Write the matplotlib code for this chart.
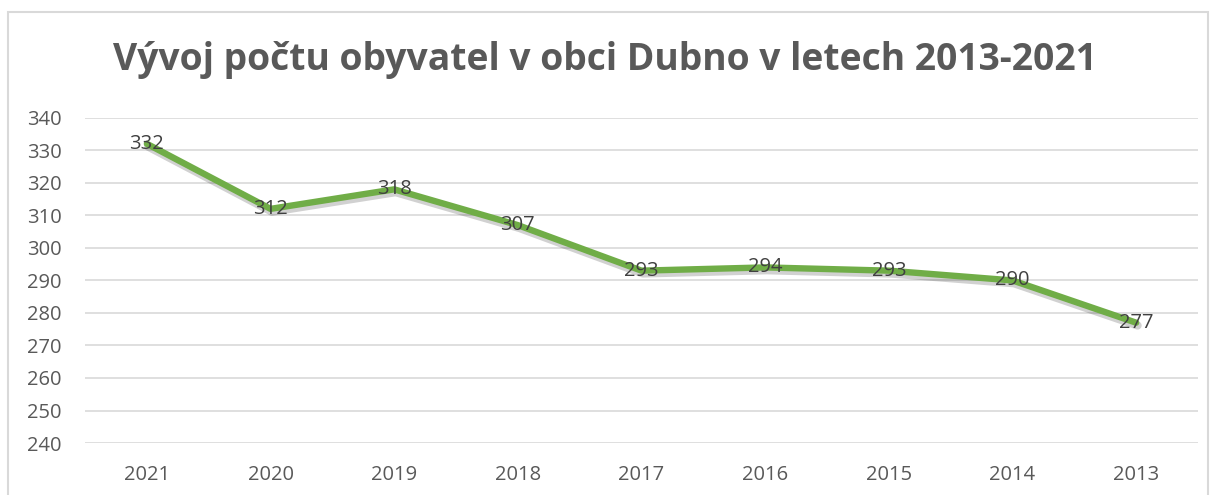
import matplotlib.pyplot as plt
import matplotlib.patheffects as pe
from matplotlib.patches import Rectangle

years = ["2021", "2020", "2019", "2018", "2017", "2016", "2015", "2014", "2013"]
population = [332, 312, 318, 307, 293, 294, 293, 290, 277]
y_ticks = [240, 250, 260, 270, 280, 290, 300, 310, 320, 330, 340]

title = "Vývoj počtu obyvatel v obci Dubno v letech 2013-2021"

plt.rcParams['font.family'] = ['Open Sans', 'DejaVu Sans']

fig = plt.figure(figsize=(12.15, 4.95), dpi=100)
ax = fig.add_axes([0.070, 0.105, 0.916, 0.657])

# outer chart border (bottom edge cut off in the reference)
fig.patches.append(Rectangle((8 / 1215, -0.05), 1200 / 1215, 1 - 12 / 495 + 0.05,
                             transform=fig.transFigure, fill=False,
                             ec="#D9D9D9", lw=1.5))

x = list(range(len(years)))
ax.plot(x, population, color="#70AD47", lw=4.6, solid_joinstyle="round",
        solid_capstyle="round",
        path_effects=[pe.SimpleLineShadow(offset=(1, -2), shadow_color="#000000",
                                          alpha=0.18, linewidth=6),
                      pe.Normal()])

for xi, v in zip(x, population):
    ax.text(xi, v, str(v), ha="center", va="center", fontsize=14.5, color="#404040")

ax.set_xlim(-0.5, len(years) - 0.5)
ax.set_ylim(240, 340)
ax.set_yticks(y_ticks)
ax.set_xticks(x)
ax.set_xticklabels(years)
ax.yaxis.grid(True, color="#D9D9D9", lw=1.2)
ax.set_axisbelow(True)
for s in ax.spines.values():
    s.set_visible(False)
ax.tick_params(length=0, labelsize=14.5, colors="#595959")
ax.tick_params(axis="y", pad=17)
ax.tick_params(axis="x", pad=16)

fig.text(0.498, 0.879, title, ha="center", va="center", fontsize=26.8,
         fontweight="bold", color="#595959")

fig.savefig("out.png", dpi=100)
